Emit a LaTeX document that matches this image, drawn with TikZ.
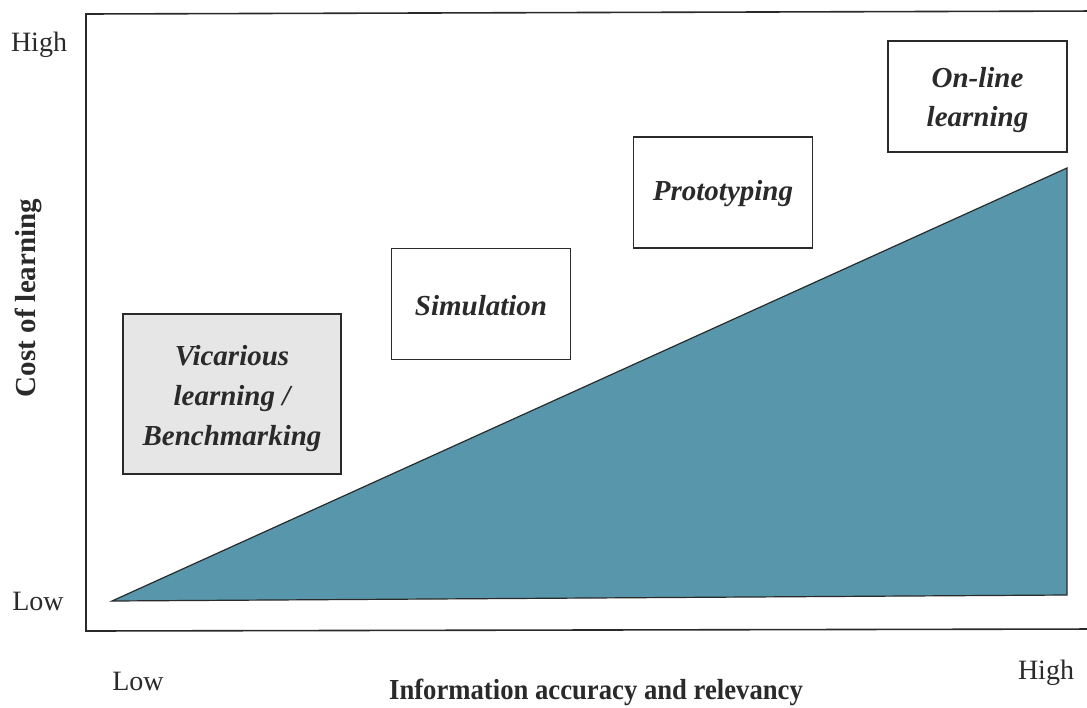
\documentclass[tikz,border=0pt]{standalone}
\usepackage{fontspec}
\setmainfont{Liberation Serif}
\definecolor{wedge}{RGB}{88,151,171}
\definecolor{ink}{RGB}{42,42,42}
\definecolor{boxgray}{RGB}{230,230,230}
\begin{document}
\begin{tikzpicture}[x=0.5pt,y=-0.5pt,
  box/.style={draw=ink, line width=0.65pt, inner sep=0pt,
    minimum width=89.5pt, minimum height=55.5pt},
  boxtext/.style={align=center, inner sep=0pt,
    font=\fontsize{14.5}{19.5}\selectfont\bfseries\itshape, text=ink},
  axislabel/.style={font=\fontsize{14}{16}\selectfont, text=ink, inner sep=0pt},
  axistitle/.style={font=\fontsize{14.5}{16}\selectfont\bfseries, text=ink, inner sep=0pt}]
\useasboundingbox (0,0) rectangle (1087,707);
\fill[white] (0,0) rectangle (1087,707);

% chart frame (right side runs past the page edge)
\coordinate (ftr) at (1100,11);
\coordinate (ftl) at (86,14);
\coordinate (fbl) at (86,631);
\coordinate (fbr) at (1100,629);
\draw[ink, line width=0.8pt] (ftr) -- (ftl) -- (fbl) -- (fbr);

% rising wedge: cost grows with information accuracy
\coordinate (wl) at (112,601);
\coordinate (wr) at (1067,595);
\coordinate (wt) at (1067,168);
\fill[wedge] (wl) -- (wr) -- (wt) -- cycle;
\draw[ink, line width=0.6pt, line join=miter] (wl) -- (wr) -- (wt) -- cycle;

% learning modes: frames
\node[box, fill=boxgray, minimum width=109pt, minimum height=80pt] (vic) at (232,394) {};
\node[box] (sim) at (481,304) {};
\node[box] (proto) at (723,192.5) {};
\node[box] (online) at (977.5,96.5) {};

% learning modes: captions
\node[boxtext] (vic-t) at (232,399) {Vicarious\\[0.5pt]learning /\\[0.5pt]Benchmarking};
\node[boxtext] (sim-t) at (481,306) {Simulation};
\node[boxtext] (proto-t) at (723,194) {Prototyping};
\node[boxtext] (online-t) at (977.5,100) {On-line\\learning};

% axis labels
\node[axislabel] (yhigh) at (39,45) {High};
\node[axislabel] (ylow) at (38,601) {Low};
\node[axistitle, rotate=90] (ytitle) at (28,298) {Cost of learning};
\node[axislabel] (xlow) at (138,681) {Low};
\node[axislabel] (xhigh) at (1046,673) {High};
\node[axistitle, xscale=0.92] (xtitle) at (596,692) {Information accuracy and relevancy};
\end{tikzpicture}
\end{document}
